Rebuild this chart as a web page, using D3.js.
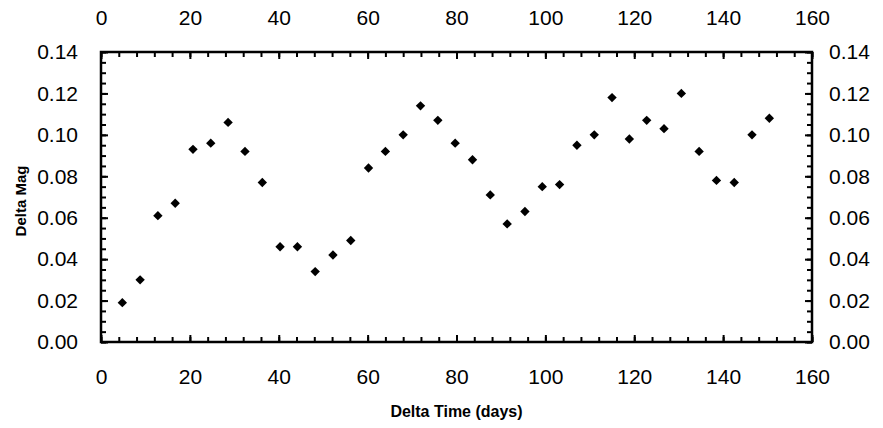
<!DOCTYPE html>
<html>
<head>
<meta charset="utf-8">
<script src="https://cdn.jsdelivr.net/npm/d3@7"></script>
<style>
  body { margin: 0; background: #fff; }
  svg text { font-family: "Liberation Sans", Arial, Helvetica, sans-serif; fill: #000; }
</style>
</head>
<body>
<svg id="chart" width="883" height="428"></svg>
<script>
// values
const deltaTime = [4.8, 8.8, 12.8, 16.7, 20.7, 24.7, 28.6, 32.4, 36.3, 40.3,
  44.2, 48.2, 52.2, 56.2, 60.2, 64.0, 68.0, 71.9, 75.8, 79.7,
  83.6, 87.6, 91.4, 95.4, 99.3, 103.2, 107.1, 111.0, 115.0, 118.9,
  122.8, 126.7, 130.6, 134.6, 138.5, 142.5, 146.5, 150.4];
const deltaMag = [0.019, 0.030, 0.061, 0.067, 0.093, 0.096, 0.106, 0.092, 0.077, 0.046,
  0.046, 0.034, 0.042, 0.049, 0.084, 0.092, 0.100, 0.114, 0.107, 0.096,
  0.088, 0.071, 0.057, 0.063, 0.075, 0.076, 0.095, 0.100, 0.118, 0.098,
  0.107, 0.103, 0.120, 0.092, 0.078, 0.077, 0.100, 0.108];

const xTicks = [0, 20, 40, 60, 80, 100, 120, 140, 160];
const yTicks = [0, 0.02, 0.04, 0.06, 0.08, 0.10, 0.12, 0.14];
const xMinor = d3.range(0, 161, 4);
const yMinor = d3.range(0, 0.1401, 0.005);

const svg = d3.select("#chart");

const x = d3.scaleLinear().domain([0, 160]).range([101, 812]);
const y = d3.scaleLinear().domain([0, 0.14]).range([342, 52]);
const fmtY = d3.format(".2f");

function styleAxis(g) {
  g.select(".domain").remove();
  g.selectAll(".tick line").attr("stroke", "#000").attr("stroke-width", 2);
  g.selectAll(".tick text").style("font-size", "21px");
}

// minor ticks, all pointing inward
svg.append("g").attr("transform", "translate(0,342)")
  .call(d3.axisBottom(x).tickValues(xMinor).tickSize(-5).tickFormat(""))
  .call(styleAxis);
svg.append("g").attr("transform", "translate(0,52)")
  .call(d3.axisTop(x).tickValues(xMinor).tickSize(-5).tickFormat(""))
  .call(styleAxis);
svg.append("g").attr("transform", "translate(101,0)")
  .call(d3.axisLeft(y).tickValues(yMinor).tickSize(-5).tickFormat(""))
  .call(styleAxis);
svg.append("g").attr("transform", "translate(812,0)")
  .call(d3.axisRight(y).tickValues(yMinor).tickSize(-5).tickFormat(""))
  .call(styleAxis);

// major ticks + labels
svg.append("g").attr("transform", "translate(0,342)")
  .call(d3.axisBottom(x).tickValues(xTicks).tickSize(-7).tickPadding(27).tickFormat(d3.format("d")))
  .call(styleAxis);
svg.append("g").attr("transform", "translate(0,52)")
  .call(d3.axisTop(x).tickValues(xTicks).tickSize(-7).tickPadding(27).tickFormat(d3.format("d")))
  .call(styleAxis);
svg.append("g").attr("transform", "translate(101,0)")
  .call(d3.axisLeft(y).tickValues(yTicks).tickSize(-7).tickPadding(23).tickFormat(fmtY))
  .call(styleAxis);
svg.append("g").attr("transform", "translate(812,0)")
  .call(d3.axisRight(y).tickValues(yTicks).tickSize(-7).tickPadding(17).tickFormat(fmtY))
  .call(styleAxis);

// frame
svg.append("rect")
  .attr("x", x(0)).attr("y", y(0.14))
  .attr("width", x(160) - x(0)).attr("height", y(0) - y(0.14))
  .attr("fill", "none").attr("stroke", "#000").attr("stroke-width", 2.5);

// points
const diamond = d3.symbol().type(d3.symbolSquare).size(44);
svg.append("g").selectAll("path")
  .data(deltaTime)
  .join("path")
    .attr("d", diamond)
    .attr("transform", (d, i) => "translate(" + x(d) + "," + y(deltaMag[i]) + ") rotate(45)")
    .attr("fill", "#000");

// axis titles
svg.append("text")
  .attr("x", (x(0) + x(160)) / 2).attr("y", 417)
  .attr("text-anchor", "middle")
  .style("font-size", "16px").style("font-weight", "bold")
  .text("Delta Time (days)");

svg.append("text")
  .attr("transform", "translate(26,201) rotate(-90)")
  .attr("text-anchor", "middle")
  .style("font-size", "15px").style("font-weight", "bold")
  .text("Delta Mag");
</script>
</body>
</html>
